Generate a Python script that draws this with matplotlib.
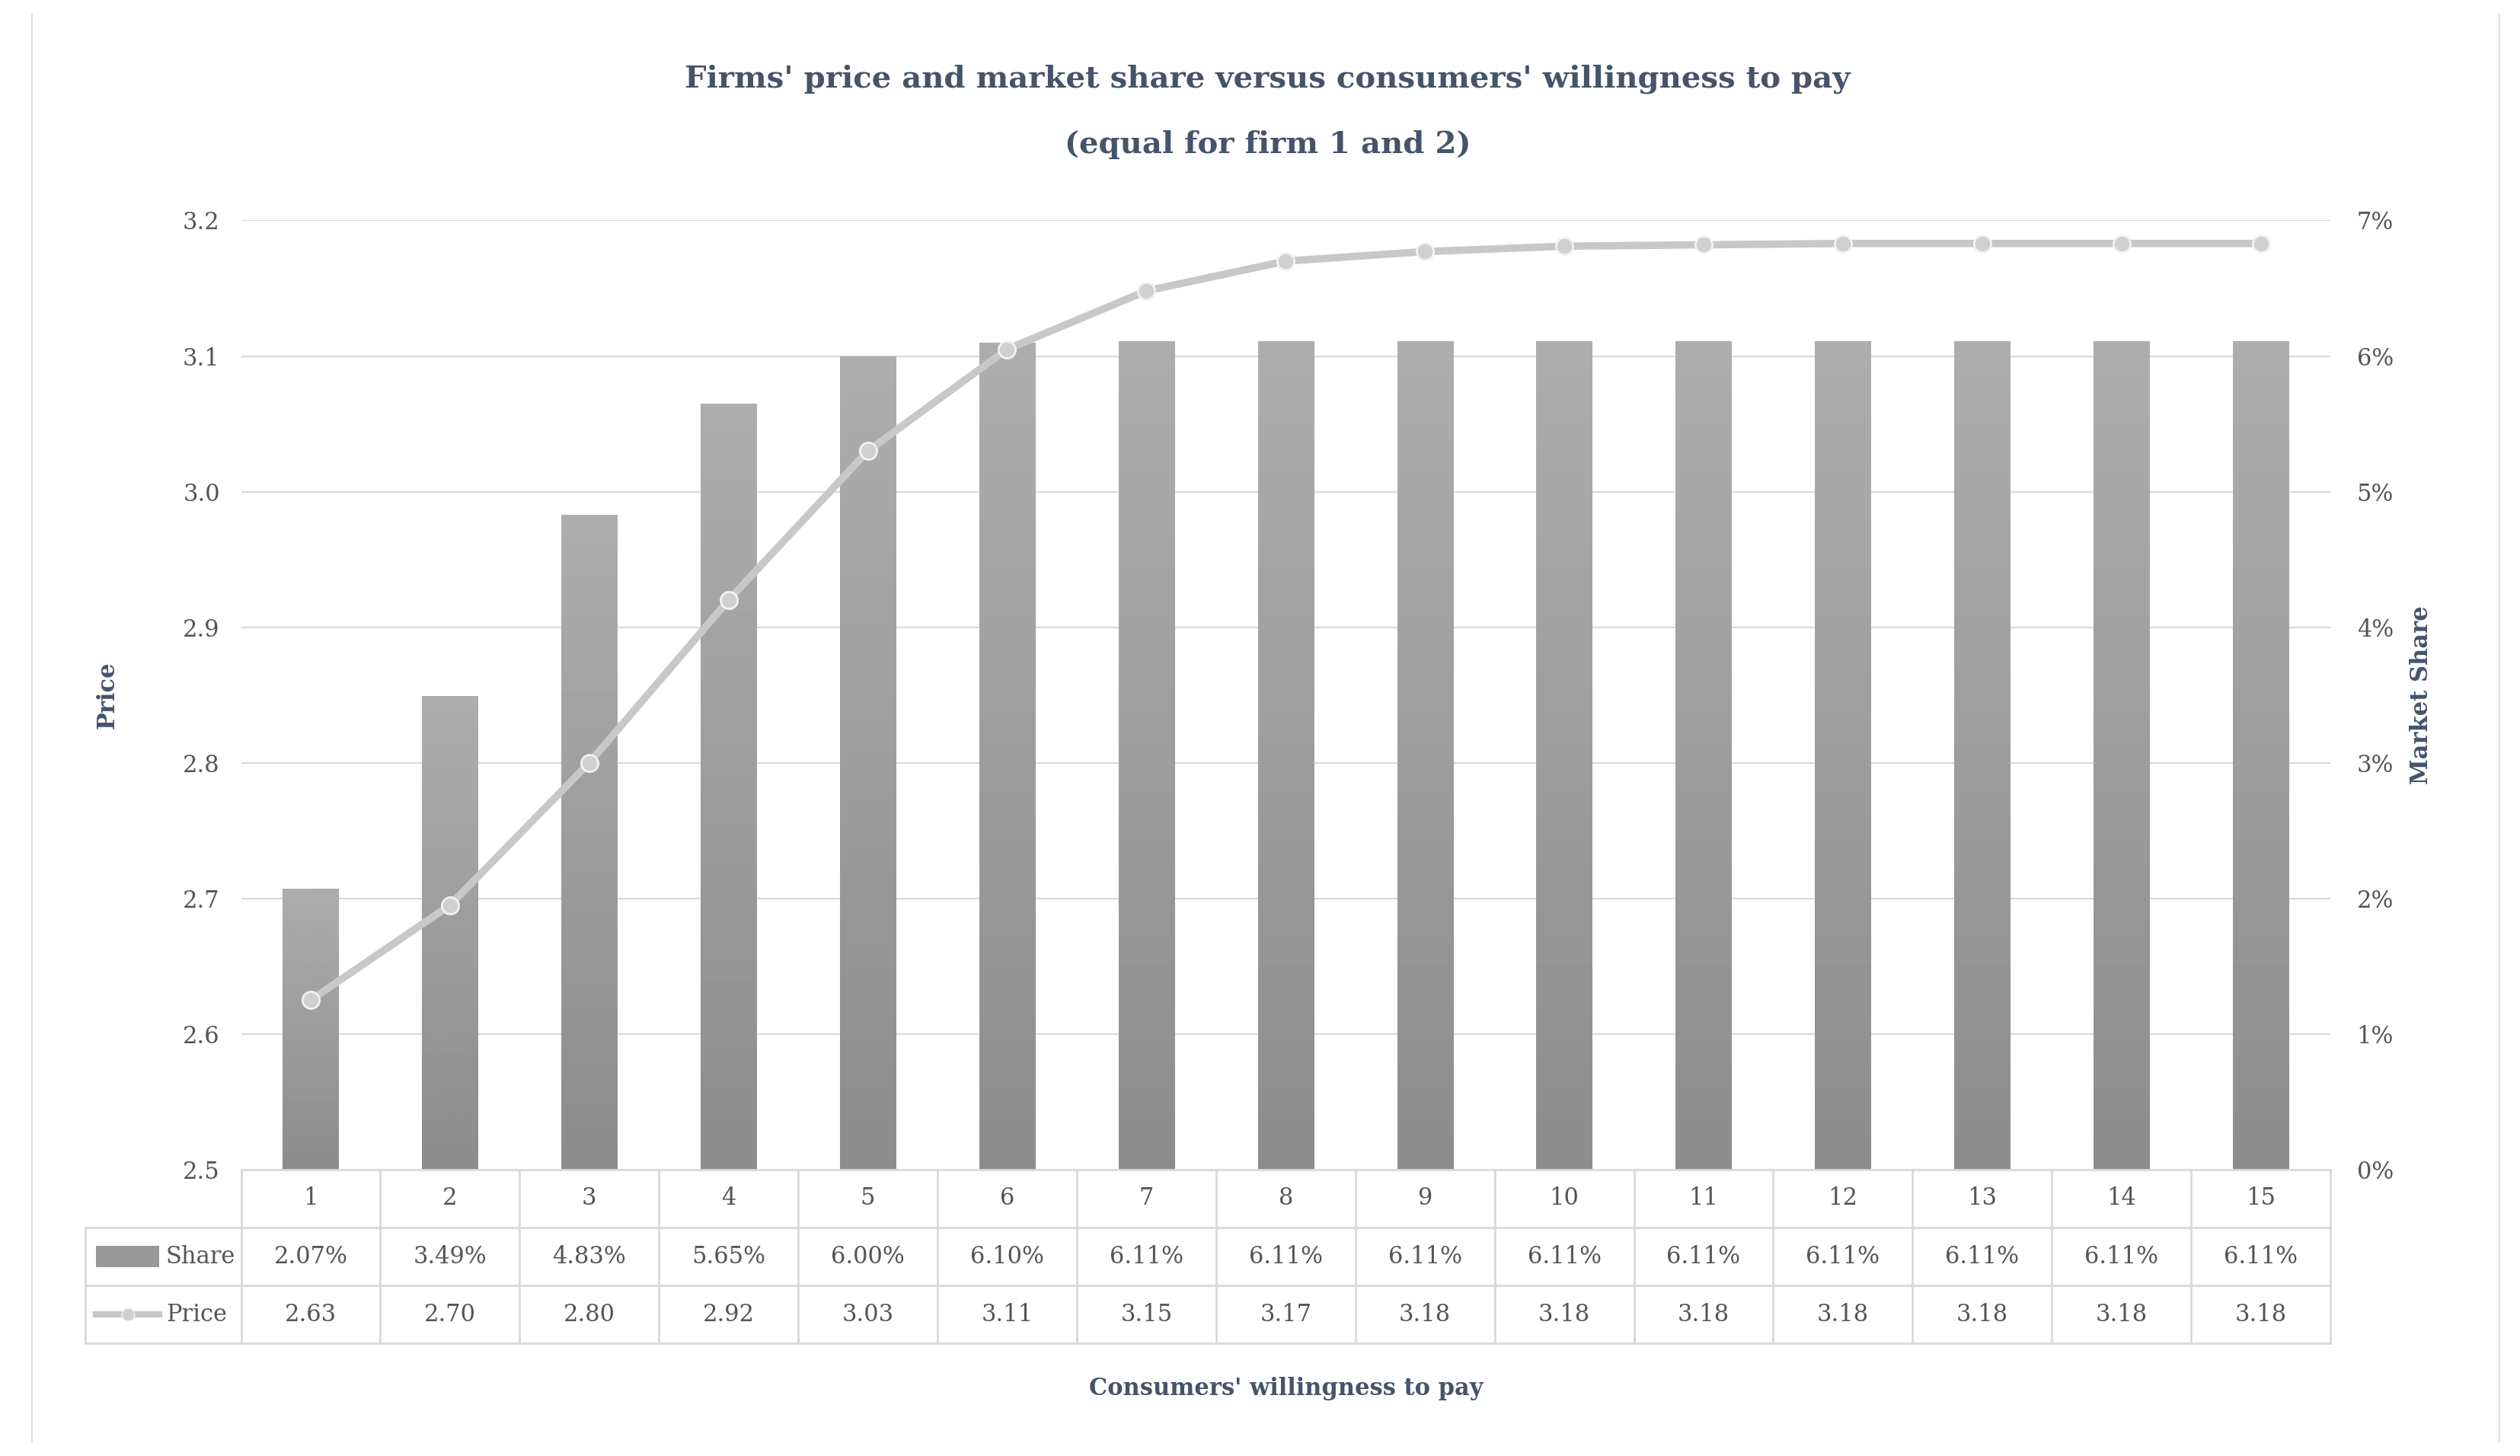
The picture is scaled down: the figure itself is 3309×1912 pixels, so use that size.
import matplotlib
matplotlib.use("Agg")
import matplotlib.pyplot as plt
import numpy as np
from matplotlib.lines import Line2D
from matplotlib.patches import Rectangle

x = list(range(1, 16))
share = [2.07, 3.49, 4.83, 5.65, 6.00, 6.10, 6.11, 6.11, 6.11, 6.11, 6.11, 6.11, 6.11, 6.11, 6.11]
price = [2.625, 2.695, 2.80, 2.92, 3.03, 3.105, 3.148, 3.17, 3.177, 3.181, 3.182, 3.183, 3.183, 3.183, 3.183]
share_lbl = ["2.07%", "3.49%", "4.83%", "5.65%", "6.00%", "6.10%"] + ["6.11%"] * 9
price_lbl = ["2.63", "2.70", "2.80", "2.92", "3.03", "3.11", "3.15", "3.17"] + ["3.18"] * 7

plt.rcParams['font.family'] = ['DejaVu Serif']
TC = '#44546A'
W, H = 1568, 905
fig = plt.figure(figsize=(33.09, 19.12), dpi=100)
L, R, B, T = 150 / W, 1450 / W, 1 - 727 / H, 1 - 137 / H
ax2 = fig.add_axes([L, B, R - L, T - B])
ax = ax2.twinx()
ax2.yaxis.tick_right(); ax.yaxis.tick_left()
ax2.yaxis.set_label_position('right'); ax.yaxis.set_label_position('left')

# bars on ax2 (share)
ax2.set_ylim(0, 7)
ax2.set_xlim(0.5, 15.5)
grad = np.linspace(0.55, 0.68, 256).reshape(-1, 1)
for xi, s in zip(x, share):
    r = Rectangle((xi - 0.2, 0), 0.4, s, facecolor='none', edgecolor='none')
    ax2.add_patch(r)
    im = ax2.imshow(grad, extent=(xi - 0.2, xi + 0.2, 0, s), origin='lower', cmap='gray',
                    vmin=0, vmax=1, aspect='auto', zorder=2)
    im.set_clip_path(r)
ax2.set_xlim(0.5, 15.5)
ax2.set_yticks(range(0, 8))
ax2.set_yticklabels([f"{i}%" for i in range(8)])
ax2.set_ylabel("Market Share", fontsize=22, fontweight='bold', color=TC, labelpad=15)
for v in np.arange(0.1, 0.8, 0.1):
    ax2.axhline(v * 10, color='#d9d9d9', lw=1.5, zorder=0)

ax.set_ylim(2.5, 3.2)
ax.plot(x, price, color='#c8c8c8', lw=7, marker='o', ms=16, mfc='#d0d0d0', mec='#f2f2f2', mew=2, zorder=5)
ax.set_yticks(np.round(np.arange(2.5, 3.21, 0.1), 1))
ax.set_yticklabels([f"{v:.1f}" for v in np.arange(2.5, 3.21, 0.1)])
ax.set_ylabel("Price", fontsize=22, fontweight='bold', color=TC, labelpad=60)
for a in (ax, ax2):
    a.tick_params(length=0, labelsize=22, labelcolor='#555555', pad=20)
    for sp in a.spines.values():
        sp.set_visible(False)
    a.set_xticks([])
ax2.tick_params(axis='y', pad=25)

# table
rh = 36 / 590
tr = ax2.get_xaxis_transform()
lc = '#d9d9d9'
x0 = 0.5 - (150 - 53) / 1300 * 15
def hl(xa, xb, y):
    ax2.add_line(Line2D([xa, xb], [y, y], transform=tr, color=lc, lw=2, clip_on=False))
def vl(xv, ya, yb):
    ax2.add_line(Line2D([xv, xv], [ya, yb], transform=tr, color=lc, lw=2, clip_on=False))
hl(0.5, 15.5, 0)
for k in (1, 2, 3):
    hl(x0 if k > 0 else 0.5, 15.5, -k * rh)
for b in np.arange(0.5, 15.6, 1):
    vl(b, 0, -3 * rh)
vl(x0, -rh, -3 * rh)
for xi in x:
    ax2.text(xi, -0.5 * rh, str(xi), transform=tr, ha='center', va='center', fontsize=22, color='#555555')
    ax2.text(xi, -1.5 * rh, share_lbl[xi - 1], transform=tr, ha='center', va='center', fontsize=22, color='#555555')
    ax2.text(xi, -2.5 * rh, price_lbl[xi - 1], transform=tr, ha='center', va='center', fontsize=22, color='#555555')
ax2.add_patch(Rectangle((x0 + 0.08, -1.5 * rh - 0.011), 0.45, 0.022, transform=tr, clip_on=False,
                        facecolor='#999999', edgecolor='none'))
ax2.text(x0 + 0.58, -1.5 * rh, "Share", transform=tr, va='center', fontsize=22, color='#555555')
ax2.add_line(Line2D([x0 + 0.08, x0 + 0.53], [-2.5 * rh] * 2, transform=tr, color='#c8c8c8', lw=6, clip_on=False))
ax2.add_line(Line2D([x0 + 0.305], [-2.5 * rh], transform=tr, marker='o', ms=12, color='#d0d0d0', mec='#f2f2f2', clip_on=False))
ax2.text(x0 + 0.58, -2.5 * rh, "Price", transform=tr, va='center', fontsize=22, color='#555555')
ax2.text(8, -3 * rh - 0.035, "Consumers' willingness to pay", transform=tr, ha='center', va='top',
         fontsize=22, fontweight='bold', color=TC)

fig.text(0.503, 1 - 49 / H, "Firms' price and market share versus consumers' willingness to pay",
         ha='center', va='center', fontsize=29, fontweight='bold', color=TC)
fig.text(0.503, 1 - 90 / H, "(equal for firm 1 and 2)", ha='center', va='center', fontsize=29, fontweight='bold', color=TC)
fig.add_artist(Line2D([20 / W] * 2, [0.01, 0.99], color='#e0e0e0', lw=1.5))
fig.add_artist(Line2D([1555 / W] * 2, [0.01, 0.99], color='#e0e0e0', lw=1.5))
fig.savefig("out.png", dpi=100, facecolor='white')
